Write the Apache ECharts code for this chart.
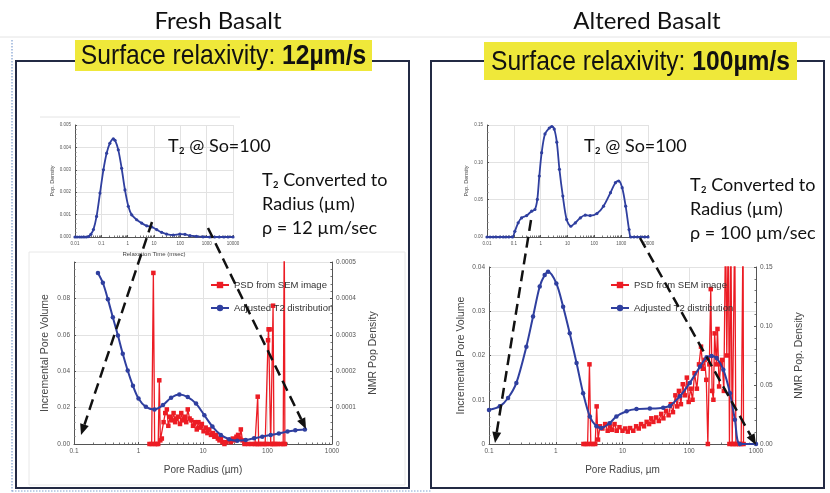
<!DOCTYPE html>
<html><head><meta charset="utf-8">
<script src="https://cdn.jsdelivr.net/npm/echarts@6/dist/echarts.min.js"></script>
<style>html,body{margin:0;padding:0;background:#fff}#c{width:830px;height:493px}</style>
</head><body><div id="c"></div>
<script>
// ---------- DATA ----------
const panelTitles = ['Fresh Basalt', 'Altered Basalt'];
const relaxivity = ['12µm/s', '100µm/s'];
const rhoText = ['ρ = 12 µm/sec', 'ρ = 100 µm/sec'];

// T2 distributions (relaxation time msec, pop. density)
const freshT2 = [[0.01,0],[0.012,0],[0.015,0],[0.018,0],[0.022,0],[0.027,0],[0.033,0.00002],[0.04,0.00012],[0.05,0.00033],[0.066,0.00092],[0.089,0.00196],[0.12,0.003],[0.159,0.00374],[0.21,0.00418],[0.285,0.00438],[0.33,0.00432],[0.44,0.00389],[0.59,0.00307],[0.79,0.0021],[1.06,0.00137],[1.42,0.00099],[2.2,0.00077],[3.4,0.00062],[5.3,0.0005],[8.2,0.00045],[12.6,0.00033],[19.5,0.00021],[30,0.00013],[54,0.00009],[96,0.00013],[150,0.00012],[232,0.00006],[410,0.00003],[730,0.00001],[1300,0],[2000,0],[3000,0],[4500,0],[6500,0],[10000,0]];
const alteredT2 = [[0.01,0],[0.013,0],[0.017,0],[0.022,0],[0.03,0],[0.04,0],[0.05,0],[0.065,0],[0.089,0],[0.109,0.0076],[0.145,0.019],[0.194,0.0256],[0.3,0.0287],[0.46,0.0346],[0.61,0.0368],[0.75,0.0503],[0.89,0.0817],[1.09,0.113],[1.45,0.138],[2.1,0.146],[2.6,0.148],[3.2,0.1446],[4.0,0.127],[5.0,0.0907],[6.7,0.0548],[9.3,0.0233],[13.3,0.0144],[19.5,0.0189],[30,0.0256],[46,0.0292],[70,0.0287],[125,0.0314],[220,0.0413],[400,0.0593],[610,0.0727],[810,0.075],[1090,0.066],[1470,0.0413],[1970,0.0099],[2280,0],[3000,0],[4000,0],[5500,0],[7500,0],[10000,0]];

// Adjusted T2 distribution vs pore radius (µm, NMR pop density)
const freshNmr = [[0.235,0.00047],[0.28,0.000443],[0.335,0.000398],[0.4,0.000348],[0.48,0.000298],[0.57,0.000248],[0.68,0.000202],[0.82,0.00016],[1.0,0.000125],[1.3,0.000102],[1.77,0.000095],[2.4,0.000107],[3.2,0.000127],[4.3,0.000136],[5.8,0.000129],[7.8,0.000111],[10.5,0.000079],[14,0.000048],[18.9,0.000025],[25.5,0.000013],[34,0.000009],[46,0.000011],[62,0.000016],[83,0.00002],[112,0.000025],[150,0.000029],[204,0.000034],[270,0.000038],[380,0.00004]];
const alteredNmr = [[0.1,0.0289],[0.145,0.0319],[0.193,0.039],[0.257,0.0518],[0.363,0.0825],[0.457,0.108],[0.575,0.1335],[0.683,0.1433],[0.767,0.1459],[1.02,0.1361],[1.29,0.1163],[1.62,0.0938],[2.05,0.0686],[2.57,0.0431],[3.24,0.0233],[4.07,0.015],[4.8,0.0135],[6.4,0.0176],[8.1,0.0233],[11.5,0.0278],[16.2,0.0296],[25.7,0.03],[40.7,0.0308],[51.3,0.0323],[72.4,0.0405],[102,0.0518],[145,0.0656],[182,0.0735],[216,0.0746],[257,0.0728],[324,0.063],[407,0.0431],[483,0.0206],[575,0],[1000,0]];

// PSD from SEM image (µm, incremental pore volume)
const freshPsd = [[1.48,0],[1.6,0],[1.7,0.094],[1.78,0],[1.9,0],[2.02,0],[2.1,0.035],[2.18,0.002],[2.3,0.003],[2.45,0.012],[2.6,0.017],[2.75,0.019],[2.9,0.01],[3.1,0.015],[3.3,0.013],[3.5,0.017],[3.7,0.012],[3.9,0.014],[4.1,0.015],[4.4,0.011],[4.6,0.017],[4.9,0.013],[5.2,0.015],[5.5,0.012],[5.8,0.019],[6.2,0.014],[6.6,0.013],[7,0.01],[7.5,0.012],[8,0.008],[8.5,0.012],[9,0.009],[9.6,0.011],[10.2,0.007],[11,0.009],[11.7,0.006],[12.5,0.008],[13.3,0.005],[14.2,0.006],[15,0.004],[16,0.005],[17,0.003],[18,0.002],[19,0.003],[20,0.001],[21.5,0],[23,0.001],[25,0.002],[27,0.001],[29,0.003],[31,0.002],[33,0.004],[35,0.005],[37,0.003],[38.6,0.008],[41,0.002],[44,0],[50,0],[57,0],[64,0],[68,0],[70.5,0.026],[73,0],[78,0],[85,0],[92,0],[98,0],[102,0.057],[104,0.063],[108,0.063],[112,0],[118,0],[122,0.076],[126,0],[135,0],[145,0],[160,0],[175,0],[182,0.12],[186,0]];
const alteredPsd = [[2.6,0],[2.8,0],[3.0,0],[3.2,0.018],[3.35,0],[3.6,0],[3.9,0],[4.1,0.0085],[4.3,0.001],[4.6,0.004],[5,0.0035],[5.5,0.0045],[6,0.003],[6.5,0.004],[7,0.0032],[7.6,0.0045],[8.2,0.003],[9,0.0038],[10,0.003],[11,0.0035],[12,0.0028],[13,0.0036],[14.5,0.003],[16,0.004],[17.5,0.0035],[19,0.0045],[21,0.004],[23,0.005],[25,0.0045],[27,0.0058],[29,0.005],[32,0.006],[35,0.0052],[38,0.0068],[41,0.0058],[45,0.0075],[49,0.0065],[53,0.009],[57,0.0072],[62,0.011],[66,0.0085],[70,0.012],[75,0.009],[80,0.0135],[86,0.011],[92,0.015],[98,0.0095],[105,0.0125],[112,0.01],[120,0.016],[130,0.0125],[140,0.018],[150,0.022],[160,0.017],[170,0.019],[180,0.0145],[190,0],[200,0.018],[210,0.035],[220,0.012],[230,0.01],[240,0.025],[255,0.018],[265,0.026],[280,0.013],[295,0.018],[310,0.019],[330,0.012],[350,0.05],[365,0.02],[385,0.05],[400,0],[420,0.05],[440,0],[460,0],[480,0.05],[500,0],[530,0],[560,0],[600,0],[640,0.05],[650,0]];

const legendNames = ['PSD from SEM image', 'Adjusted T2 distribution'];

// ---------- STYLE HELPERS ----------
const AF = 'Liberation Sans';
const BLUE = '#2f3f9f', RED = '#ec1c24';
const tickFmt = v => String(+Number(v).toPrecision(3));

function logX(grid, min, max, split, name, fs, nameGap, nameFs) {
  return {
    type: 'log', logBase: 10, gridIndex: grid, min, max, splitNumber: split,
    name, nameLocation: 'middle', nameGap,
    nameTextStyle: {fontSize: nameFs, color: '#444', fontFamily: AF},
    axisLine: {show: true, onZero: false, lineStyle: {color: '#555', width: 1}},
    axisTick: {show: true, inside: true, length: 2, lineStyle: {color: '#555'}},
    minorTick: {show: true, splitNumber: 9, length: 1.5, lineStyle: {color: '#777'}},
    axisLabel: {fontSize: fs, color: '#555', fontFamily: AF, margin: 4, formatter: tickFmt},
    splitLine: {show: true, lineStyle: {color: '#e2e2e2', width: 1}},
    minorSplitLine: {show: false}
  };
}
function valY(grid, min, max, interval, fmt, pos, name, nameGap, fs, nameFs, split) {
  return {
    type: 'value', gridIndex: grid, min, max, interval, position: pos,
    name, nameLocation: 'middle', nameGap,
    nameTextStyle: {fontSize: nameFs, color: '#444', fontFamily: AF},
    axisLine: {show: true, lineStyle: {color: '#555', width: 1}},
    axisTick: {show: true, inside: true, length: 2, lineStyle: {color: '#555'}},
    minorTick: {show: true, splitNumber: 5, length: 1.5, lineStyle: {color: '#777'}},
    axisLabel: {fontSize: fs, color: '#555', fontFamily: AF, margin: 4, formatter: fmt},
    splitLine: {show: split, lineStyle: {color: '#e2e2e2', width: 1}}
  };
}
function blueLine(name, x, y, data, size, w) {
  return {type: 'line', name, xAxisIndex: x, yAxisIndex: y, data, smooth: 0.3,
    symbol: 'circle', symbolSize: size, showSymbol: true,
    lineStyle: {color: BLUE, width: w}, itemStyle: {color: BLUE}, z: 3, clip: true};
}
function redLine(name, x, y, data) {
  return {type: 'line', name, xAxisIndex: x, yAxisIndex: y, data,
    symbol: 'rect', symbolSize: 4.5,
    lineStyle: {color: RED, width: 1.3}, itemStyle: {color: RED}, z: 2, clip: true};
}

// ---------- GRAPHICS ----------
const G = [];
G.push({type: 'line', shape: {x1: 0, y1: 37, x2: 830, y2: 37}, style: {stroke: '#e4e4e4', lineWidth: 1}});
G.push({type: 'line', shape: {x1: 12, y1: 40, x2: 12, y2: 493}, style: {stroke: '#7f9fd0', lineWidth: 1.2, lineDash: [1.5, 1.5]}});
G.push({type: 'line', shape: {x1: 12, y1: 491, x2: 432, y2: 491}, style: {stroke: '#7f9fd0', lineWidth: 1.2, lineDash: [1.5, 1.5]}});
G.push({type: 'rect', shape: {x: 29, y: 252, width: 376, height: 233}, style: {fill: null, stroke: '#e8e8e8', lineWidth: 1}});
G.push({type: 'line', shape: {x1: 40, y1: 117, x2: 240, y2: 117}, style: {stroke: '#e4e4e4', lineWidth: 1}});
G.push({type: 'rect', shape: {x: 16, y: 61, width: 393, height: 427}, style: {fill: null, stroke: '#232a44', lineWidth: 2}});
G.push({type: 'rect', shape: {x: 431, y: 61, width: 393, height: 427}, style: {fill: null, stroke: '#232a44', lineWidth: 2}});

G.push({type: 'text', x: 218, y: 21, style: {text: panelTitles[0], fontSize: 24, fontFamily: 'Lato', fill: '#111', align: 'center', verticalAlign: 'middle'}});
G.push({type: 'text', x: 647, y: 21, style: {text: panelTitles[1], fontSize: 24, fontFamily: 'Lato', fill: '#111', align: 'center', verticalAlign: 'middle'}});

const richLbl = {
  a: {fontSize: 28, fontFamily: 'Liberation Sans', fill: '#111'},
  b: {fontSize: 28, fontFamily: 'Liberation Sans', fontWeight: 'bold', fill: '#111'}
};
G.push({type: 'rect', z: 50, shape: {x: 75, y: 40, width: 297, height: 31}, style: {fill: '#efe83a'}});
G.push({type: 'text', z: 51, x: 223.5, y: 56, scaleX: 0.88, style: {text: '{a|Surface relaxivity: }{b|' + relaxivity[0] + '}', rich: richLbl, align: 'center', verticalAlign: 'middle'}});
G.push({type: 'rect', z: 50, shape: {x: 484, y: 42, width: 313, height: 38}, style: {fill: '#efe83a'}});
G.push({type: 'text', z: 51, x: 640.5, y: 62, scaleX: 0.88, style: {text: '{a|Surface relaxivity: }{b|' + relaxivity[1] + '}', rich: richLbl, align: 'center', verticalAlign: 'middle'}});

function annot(x, y, t) {
  G.push({type: 'text', z: 60, x, y, style: {text: t, fontSize: 18, fontFamily: 'Lato', fill: '#111', align: 'left', verticalAlign: 'middle'}});
}
annot(168, 146, 'T₂ @ So=100');
annot(262, 180, 'T₂ Converted to');
annot(262, 204, 'Radius (µm)');
annot(262, 228, rhoText[0]);
annot(584, 146, 'T₂ @ So=100');
annot(690, 185, 'T₂ Converted to');
annot(690, 209, 'Radius (µm)');
annot(690, 233, rhoText[1]);

function arrow(x1, y1, x2, y2) {
  const dx = x2 - x1, dy = y2 - y1, L = Math.hypot(dx, dy), ux = dx / L, uy = dy / L;
  const hl = 11, hw = 4.5, bx = x2 - ux * hl, by = y2 - uy * hl;
  G.push({type: 'line', z: 100, shape: {x1, y1, x2: bx, y2: by}, style: {stroke: '#111', lineWidth: 2.5, lineDash: [11, 6]}});
  G.push({type: 'polygon', z: 100, shape: {points: [[x2, y2], [bx - uy * hw, by + ux * hw], [bx + uy * hw, by - ux * hw]]}, style: {fill: '#111'}});
}
arrow(152, 222, 81, 435);
arrow(208, 228, 306, 429);
arrow(531, 220, 495, 443);
arrow(640, 238, 756, 445);

// ---------- CHART ----------
const chart = echarts.init(document.getElementById('c'), null, {renderer: 'canvas'});
const legendCommon = {orient: 'vertical', itemWidth: 18, itemHeight: 8, itemGap: 13,
  textStyle: {fontSize: 9.5, fontFamily: AF, color: '#333'}, data: legendNames, selectedMode: false};
chart.setOption({
  animation: false,
  backgroundColor: '#fff',
  textStyle: {fontFamily: AF},
  grid: [
    {left: 75, top: 125, width: 158, height: 112},
    {left: 74, top: 262, width: 258, height: 182},
    {left: 487, top: 125, width: 161, height: 112},
    {left: 489, top: 267, width: 267, height: 177}
  ],
  xAxis: [
    logX(0, 0.01, 10000, 6, 'Relaxation Time (msec)', 4.5, 14, 6),
    logX(1, 0.1, 1000, 4, 'Pore Radius (µm)', 6.5, 21, 10),
    logX(2, 0.01, 10000, 6, '', 4.5, 12, 6),
    logX(3, 0.1, 1000, 4, 'Pore Radius, µm', 6.5, 21, 10)
  ],
  yAxis: [
    valY(0, 0, 0.005, 0.001, v => v.toFixed(3), 'left', 'Pop. Density', 18, 4.5, 5.5, true),
    valY(1, 0, 0.1, 0.02, v => v > 0.099 ? '' : v.toFixed(2), 'left', 'Incremental Pore Volume', 23, 6.5, 10.5, true),
    valY(1, 0, 0.0005, 0.0001, v => v === 0 ? '0' : v.toFixed(4), 'right', 'NMR Pop Density', 36, 6.5, 10.5, false),
    valY(2, 0, 0.15, 0.05, v => v.toFixed(2), 'left', 'Pop. Density', 18, 4.5, 5.5, true),
    valY(3, 0, 0.04, 0.01, v => v === 0 ? '0' : v.toFixed(2), 'left', 'Incremental Pore Volume', 22, 6.5, 10.5, true),
    valY(3, 0, 0.15, 0.05, v => v.toFixed(2), 'right', 'NMR Pop. Density', 38, 6.5, 10.5, false)
  ],
  legend: [
    Object.assign({left: 205, top: 275}, legendCommon),
    Object.assign({left: 605, top: 275}, legendCommon)
  ],
  series: [
    blueLine('T2 fresh', 0, 0, freshT2, 3.2, 1.8),
    redLine(legendNames[0], 1, 1, freshPsd),
    blueLine(legendNames[1], 1, 2, freshNmr, 4.5, 2),
    blueLine('T2 altered', 2, 3, alteredT2, 3.2, 1.8),
    redLine(legendNames[0], 3, 4, alteredPsd),
    blueLine(legendNames[1], 3, 5, alteredNmr, 4.5, 2)
  ],
  graphic: {elements: G}
});
</script>
</body></html>
